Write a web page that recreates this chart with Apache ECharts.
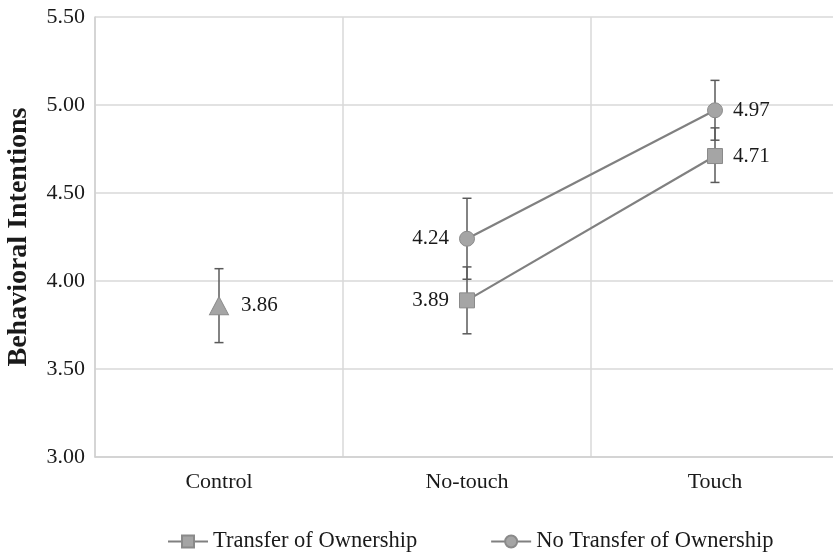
<!DOCTYPE html>
<html><head><meta charset="utf-8">
<script src="https://cdn.jsdelivr.net/npm/echarts@6/dist/echarts.min.js"></script>
<style>html,body{margin:0;padding:0;background:#fff}#c{width:833px;height:553px}</style>
</head><body><div id="c"></div>
<script>
var categories = ['Control', 'No-touch', 'Touch'];
var controlMean = [3.86, null, null];
var controlErr = [[3.65, 4.07], null, null];
var transferMean = [null, 3.89, 4.71];
var transferErr = [null, [3.70, 4.08], [4.56, 4.87]];
var noTransferMean = [null, 4.24, 4.97];
var noTransferErr = [null, [4.01, 4.47], [4.80, 5.14]];
var yTicks = [3.00, 3.50, 4.00, 4.50, 5.00, 5.50];

var errData = [];
[controlErr, transferErr, noTransferErr].forEach(function (arr) {
  arr.forEach(function (e, i) { if (e) errData.push([i, e[0], e[1]]); });
});

var font = 'Liberation Serif, Times New Roman, serif';
var fs = 22;
var txt = '#1a1a1a';
var markerFill = '#a5a5a5', markerBorder = '#8a8a8a', lineColor = '#808080';

function withLabelSides(arr) {
  return arr.map(function (v, i) {
    return { value: v, label: { position: i === 1 ? 'left' : 'right' } };
  });
}
function fmt(p) { return p.value == null ? '' : Number(p.value).toFixed(2); }

var chart = echarts.init(document.getElementById('c'));
chart.setOption({
  animation: false,
  textStyle: { fontFamily: font },
  grid: { left: 95, right: -6, top: 17, bottom: 96, outerBoundsMode: 'none', containLabel: false },
  xAxis: {
    type: 'category', data: categories, boundaryGap: true,
    axisLine: { lineStyle: { color: '#d0d0d0', width: 1.5 } },
    axisTick: { show: false },
    splitLine: { show: true, lineStyle: { color: '#d9d9d9', width: 1.5 } },
    axisLabel: { color: txt, fontSize: fs, fontFamily: font, margin: 14 }
  },
  yAxis: {
    type: 'value', min: 3, max: 5.5, interval: 0.5,
    name: 'Behavioral Intentions', nameLocation: 'middle', nameGap: 62,
    nameTextStyle: { fontSize: 28, fontWeight: 'bold', color: txt, fontFamily: font },
    axisLine: { show: true, lineStyle: { color: '#d0d0d0', width: 1.5 } },
    axisTick: { show: false },
    splitLine: { lineStyle: { color: '#d9d9d9', width: 1.5 } },
    axisLabel: { color: txt, fontSize: fs, fontFamily: font, margin: 10,
      formatter: function (v) { return v.toFixed(2); } }
  },
  legend: {
    top: 525, left: 162, width: 700, itemWidth: 40, itemHeight: 15, itemGap: 73,
    textStyle: { fontSize: 22.5, color: txt, fontFamily: font },
    data: ['Transfer of Ownership', 'No Transfer of Ownership']
  },
  series: [
    {
      type: 'custom', name: 'err', z: 1, data: errData, silent: true,
      renderItem: function (params, api) {
        var x = api.value(0);
        var lo = api.coord([x, api.value(1)]);
        var hi = api.coord([x, api.value(2)]);
        var w = 4.5;
        var st = { stroke: '#5a5a5a', lineWidth: 1.5 };
        return { type: 'group', children: [
          { type: 'line', shape: { x1: lo[0], y1: lo[1], x2: hi[0], y2: hi[1] }, style: st },
          { type: 'line', shape: { x1: lo[0] - w, y1: lo[1], x2: lo[0] + w, y2: lo[1] }, style: st },
          { type: 'line', shape: { x1: hi[0] - w, y1: hi[1], x2: hi[0] + w, y2: hi[1] }, style: st }
        ]};
      }
    },
    {
      type: 'line', name: 'Control', data: controlMean, z: 3,
      symbol: 'triangle', symbolSize: [19, 18],
      itemStyle: { color: markerFill, borderColor: markerBorder, borderWidth: 1 },
      lineStyle: { width: 0 },
      label: { show: true, position: 'right', distance: 12, fontSize: 21, color: txt, fontFamily: font, formatter: fmt }
    },
    {
      type: 'line', name: 'Transfer of Ownership', data: withLabelSides(transferMean), z: 3,
      symbol: 'rect', symbolSize: 15,
      itemStyle: { color: markerFill, borderColor: markerBorder, borderWidth: 1 },
      lineStyle: { color: lineColor, width: 2.2 },
      label: { show: true, distance: 10, fontSize: 21, color: txt, fontFamily: font, formatter: fmt }
    },
    {
      type: 'line', name: 'No Transfer of Ownership', data: withLabelSides(noTransferMean), z: 3,
      symbol: 'circle', symbolSize: 15,
      itemStyle: { color: markerFill, borderColor: markerBorder, borderWidth: 1 },
      lineStyle: { color: lineColor, width: 2.2 },
      label: { show: true, distance: 10, fontSize: 21, color: txt, fontFamily: font, formatter: fmt }
    }
  ]
});
</script></body></html>
